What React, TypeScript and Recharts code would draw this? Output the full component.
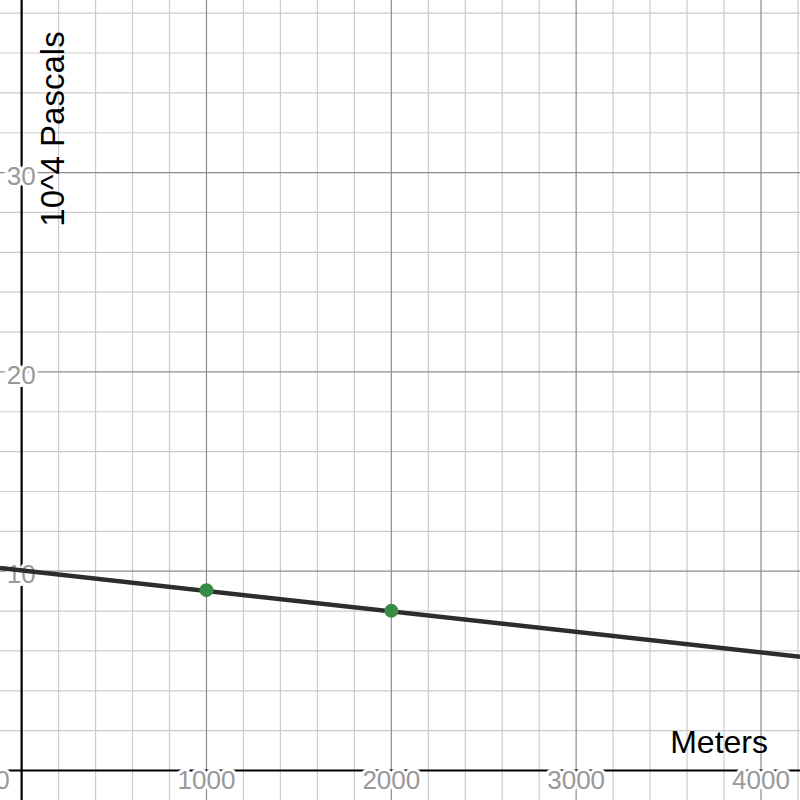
import { ComposedChart, Scatter, XAxis, YAxis, ReferenceLine, ReferenceDot } from 'recharts';

// visible window (Desmos-like graph)
const xDomain = [-117, 4211];
const yDomain = [-1.48, 38.66];

// grid
const minorXTicks = [200, 400, 600, 800, 1200, 1400, 1600, 1800, 2200, 2400, 2600, 2800, 3200, 3400, 3600, 3800, 4200];
const majorXTicks = [1000, 2000, 3000, 4000];
const minorYTicks = [2, 4, 6, 8, 12, 14, 16, 18, 22, 24, 26, 28, 32, 34, 36, 38];
const majorYTicks = [10, 20, 30];

// fitted line, read at the left and right edges
const lineX = [-117, 4211];
const lineY = [10.16, 5.71];

// measured points
const pointX = [1000, 2000];
const pointY = [9.05, 8.01];

const lineData = lineX.map((x, i) => ({ x, y: lineY[i] }));
const pointData = pointX.map((x, i) => ({ x, y: pointY[i] }));
const xLabelData = majorXTicks.map((v) => ({ x: v, y: 0, text: String(v) }));
const yLabelData = majorYTicks.map((v) => ({ x: 0, y: v, text: String(v) }));

const FONT = '"Liberation Sans", Arial, sans-serif';
const TICK_COLOR = '#999';

const haloText = {
  fontFamily: FONT,
  fontSize: 26,
  fill: TICK_COLOR,
  stroke: '#fff',
  strokeWidth: 6,
  paintOrder: 'stroke' as const,
};

function XTickShape(p: any) {
  return (
    <text x={p.cx} y={p.cy + 18} textAnchor="middle" style={haloText}>
      {p.payload.text}
    </text>
  );
}

function YTickShape(p: any) {
  return (
    <text x={p.cx + 14} y={p.cy + 12} textAnchor="end" style={haloText}>
      {p.payload.text}
    </text>
  );
}

function originLabel(props: any) {
  const { x, y } = props.viewBox;
  return (
    <text x={x - 12} y={y + 18} textAnchor="end" style={haloText}>
      0
    </text>
  );
}

function metersLabel(props: any) {
  const { x, y } = props.viewBox;
  return (
    <text x={x - 32} y={y - 18} textAnchor="end" style={{ fontFamily: FONT, fontSize: 32, fill: '#000' }}>
      Meters
    </text>
  );
}

function pascalsLabel(props: any) {
  const { x } = props.viewBox;
  const cx = x + 42;
  const cy = 129;
  return (
    <text
      x={cx}
      y={cy}
      textAnchor="middle"
      transform={`rotate(-90 ${cx} ${cy})`}
      style={{ fontFamily: FONT, fontSize: 33, fill: '#000' }}
    >
      10^4 Pascals
    </text>
  );
}

const NoDot = () => <g />;

export default function App() {
  return (
    <div style={{ position: 'absolute', left: 0, top: 0, width: 800, height: 800, background: '#fff' }}>
      <ComposedChart width={800} height={800} margin={{ top: 0, right: 0, bottom: 0, left: 0 }}>
        <XAxis dataKey="x" type="number" domain={xDomain} allowDataOverflow hide />
        <YAxis dataKey="y" type="number" domain={yDomain} allowDataOverflow hide />

        {minorXTicks.map((v) => (
          <ReferenceLine key={`mx${v}`} x={v} stroke="#ccc" strokeWidth={1.2} />
        ))}
        {minorYTicks.map((v) => (
          <ReferenceLine key={`my${v}`} y={v} stroke="#ccc" strokeWidth={1.2} />
        ))}
        {majorXTicks.map((v) => (
          <ReferenceLine key={`Mx${v}`} x={v} stroke="#8c8c8c" strokeWidth={1.2} />
        ))}
        {majorYTicks.map((v) => (
          <ReferenceLine key={`My${v}`} y={v} stroke="#8c8c8c" strokeWidth={1.2} />
        ))}

        <ReferenceLine x={0} stroke="#000" strokeWidth={2.2} />
        <ReferenceLine y={0} stroke="#000" strokeWidth={2.2} />

        <ReferenceDot x={0} y={0} r={0} fill="none" stroke="none" label={originLabel} />
        <ReferenceDot x={xDomain[1]} y={0} r={0} fill="none" stroke="none" label={metersLabel} />
        <ReferenceDot x={0} y={yDomain[1]} r={0} fill="none" stroke="none" label={pascalsLabel} />

        <Scatter data={xLabelData} dataKey="y" shape={XTickShape} isAnimationActive={false} />
        <Scatter data={yLabelData} dataKey="y" shape={YTickShape} isAnimationActive={false} />

        <Scatter
          data={lineData}
          dataKey="y"
          line={{ stroke: '#2d2d2d', strokeWidth: 4.5 }}
          shape={NoDot}
          isAnimationActive={false}
        />
        <Scatter
          data={pointData}
          dataKey="y"
          fill="#388c46"
          shape={(p: any) => <circle cx={p.cx} cy={p.cy} r={7} fill="#388c46" />}
          isAnimationActive={false}
        />
      </ComposedChart>
    </div>
  );
}
